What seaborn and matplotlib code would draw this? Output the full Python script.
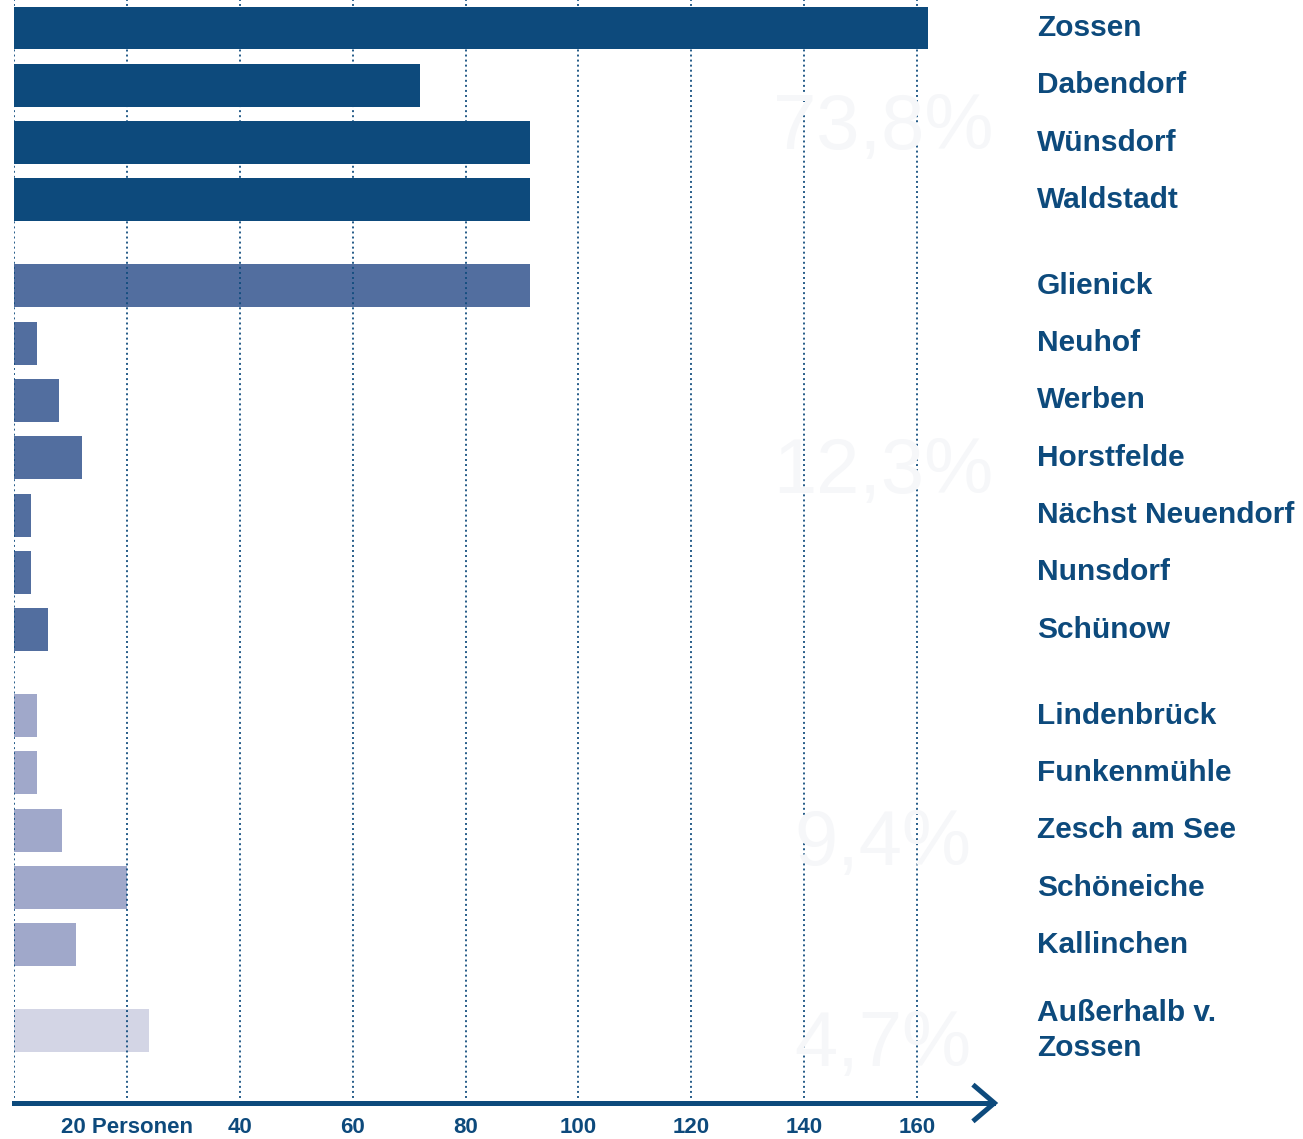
import matplotlib
matplotlib.use("Agg")
import matplotlib.pyplot as plt
import seaborn as sns
import pandas as pd

# Personen je Ortsteil
orte = ["Zossen", "Dabendorf", "Wünsdorf", "Waldstadt",
        "Glienick", "Neuhof", "Werben", "Horstfelde", "Nächst Neuendorf", "Nunsdorf", "Schünow",
        "Lindenbrück", "Funkenmühle", "Zesch am See", "Schöneiche", "Kallinchen",
        "Außerhalb v.\nZossen"]
personen = [162, 72, 91.5, 91.5,
            91.5, 4, 8, 12, 3, 3, 6,
            4, 4, 8.5, 20, 11,
            24]
gruppen = ["kern"] * 4 + ["mitte"] * 7 + ["rand"] * 5 + ["aussen"]
gruppen_namen = ["kern", "mitte", "rand", "aussen"]
anteile = ["73,8%", "12,3%", "9,4%", "4,7%"]
ticks = [0, 20, 40, 60, 80, 100, 120, 140, 160]
tick_labels = ["", "20 Personen", "40", "60", "80", "100", "120", "140", "160"]

navy = "#0d4a7c"
farben = {"kern": "#0d4a7c", "mitte": "#526e9f", "rand": "#a0a8ca", "aussen": "#d3d5e5"}

sns.set_theme(style="white")
plt.rcParams["font.family"] = ["Liberation Sans", "DejaVu Sans"]

# Position: Zeile + halbe Lücke zwischen Gruppen
pos = [i + 0.5 * gruppen_namen.index(g) for i, g in enumerate(gruppen)]
df = pd.DataFrame({"ort": orte, "personen": personen, "gruppe": gruppen, "pos": pos})

W, H = 1303, 1139
fig = plt.figure(figsize=(W / 100, H / 100), dpi=100)
left_px, bottom_px = 14, 36
ax = fig.add_axes([left_px / W, bottom_px / H, 1 - left_px / W, (H - bottom_px) / H])

sns.barplot(data=df, x="personen", y="pos", hue="gruppe", palette=farben, orient="y",
            native_scale=True, dodge=False, width=0.75, legend=False, saturation=1,
            linewidth=0, ax=ax)

px_per_unit = 5.644
slot = 57.3
ax.set_xlim(0, (W - left_px) / px_per_unit)
ytop = -28 / slot
ybot = (H - bottom_px - 28) / slot
ax.set_ylim(ybot, ytop)

ax.set_xticks(ticks)
ax.set_xticklabels(tick_labels, fontsize=16, fontweight="bold", color=navy)
ax.tick_params(axis="x", length=0, pad=10)
ax.set_yticks([])
ax.set_xlabel("")
ax.set_ylabel("")

ax.set_axisbelow(False)
ax.grid(axis="x", color=navy, linestyle=(0, (1, 1.6)), linewidth=1.4, alpha=0.9)
ax.grid(axis="y", visible=False)

for s in ["left", "top", "right"]:
    ax.spines[s].set_visible(False)
x_end = 173.5
ax.spines["bottom"].set_color(navy)
ax.spines["bottom"].set_linewidth(3.6)
ax.spines["bottom"].set_bounds(0, x_end)
ax.plot([x_end - 3.6, x_end + 0.2, x_end - 3.6], [ybot - 0.32, ybot, ybot + 0.32],
        color=navy, lw=3.6, solid_capstyle="butt", solid_joinstyle="miter",
        clip_on=False, zorder=5)

# faint group shares
for k, g in enumerate(gruppen_namen):
    p = [pp for pp, gg in zip(pos, gruppen) if gg == g]
    ax.text(154, sum(p) / len(p) + 0.25, anteile[k], fontsize=56, color="#f6f7f9",
            ha="center", va="center", zorder=3)

label_x = (1037 - left_px) / px_per_unit
for name, p in zip(orte, pos):
    ax.text(label_x, p, name, fontsize=21.5, fontweight="bold", color=navy,
            ha="left", va="center", linespacing=1.32, clip_on=False)

fig.savefig("out.png", dpi=100)
